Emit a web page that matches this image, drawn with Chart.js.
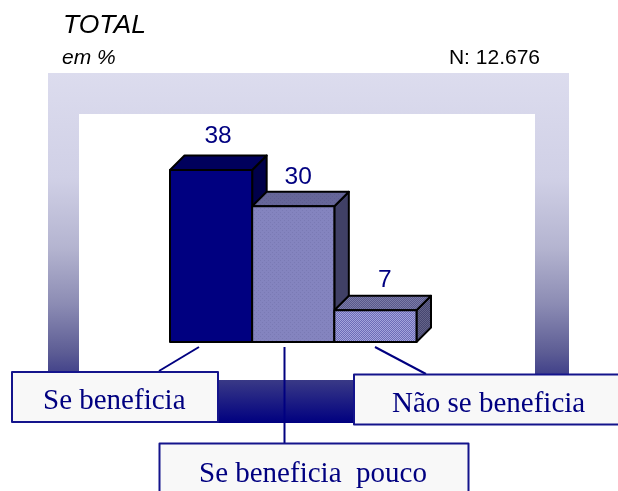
<!DOCTYPE html>
<html><head><meta charset="utf-8">
<style>html,body{margin:0;padding:0;background:#fff;overflow:hidden}#w{width:618px;height:491px;position:relative}</style>
<script src="https://cdn.jsdelivr.net/npm/chart.js@4"></script>
</head><body><div id="w"><canvas id="c" width="618" height="491"></canvas></div>
<script>
const categories = ["Se beneficia", "Se beneficia  pouco", "Não se beneficia"];
const values = [38, 30, 7];
const titleText = "TOTAL";
const unitText = "em %";
const sampleText = "N: 12.676";
const faceColors = ["#000080", "#8484bf", "#8c8cc8"];
const topColors = ["#00005c", "#666699", "#66668f"];
const sideColors = ["#00004a", "#404066", "#50507a"];

const NAVY = "#000080";
const DEPTH = 14.5;
const labelShiftX = [7, 5, 9.5];
const labelShiftY = [-27, -22, -23];
const cv = document.getElementById("c");
const g0 = cv.getContext("2d");

function dither(base, alt, step) {
  const p = document.createElement("canvas");
  p.width = p.height = step * 2;
  const x = p.getContext("2d");
  x.fillStyle = base; x.fillRect(0, 0, step * 2, step * 2);
  x.fillStyle = alt; x.fillRect(0, 0, 1, 1); x.fillRect(step, step, 1, 1);
  return g0.createPattern(p, "repeat");
}
const facePatterns = [faceColors[0], dither(faceColors[1], "#7a7ab4", 2), dither("#6c6cb8", "#a4a4dc", 1)];
const topPatterns = [topColors[0], dither(topColors[1], "#5e5e90", 2), dither("#58588a", "#7c7ca8", 1)];
const sidePatterns = [sideColors[0], sideColors[1], dither("#464670", "#64648a", 1)];

function poly(c, pts, fill) {
  c.beginPath();
  pts.forEach((p, i) => i ? c.lineTo(p[0], p[1]) : c.moveTo(p[0], p[1]));
  c.closePath();
  c.fillStyle = fill; c.fill();
  c.lineWidth = 2; c.strokeStyle = "#000"; c.lineJoin = "round"; c.stroke();
}
function seg(c, a, b, d, e, w) {
  c.beginPath(); c.moveTo(a, b); c.lineTo(d, e);
  c.lineWidth = w; c.strokeStyle = NAVY; c.stroke();
}
function box(c, x, y, w, h, text, tx, ty, openBottom) {
  c.fillStyle = "#f8f8f8"; c.fillRect(x, y, w, h);
  c.strokeStyle = "#14148c"; c.lineWidth = 2;
  c.beginPath();
  if (openBottom) { c.moveTo(x, y + h); c.lineTo(x, y); c.lineTo(x + w, y); c.lineTo(x + w, y + h); }
  else c.rect(x, y, w, h);
  c.stroke();
  c.font = "29px 'Liberation Serif'"; c.fillStyle = NAVY;
  c.textAlign = "left"; c.textBaseline = "alphabetic";
  c.fillText(text, tx, ty);
}

const scene = {
  id: "scene",
  beforeDraw(ch) {
    const c = ch.ctx;
    const g = c.createLinearGradient(0, 73, 0, 423);
    [[0, "#dcdcee"], [.3, "#d0d0e6"], [.5, "#b4b4d0"], [.66, "#8c8cb4"], [.8, "#5c5c94"],
     [.88, "#383886"], [1, NAVY]].forEach(s => g.addColorStop(s[0], s[1]));
    c.save();
    c.fillStyle = "#fff"; c.fillRect(0, 0, 618, 491);
    c.fillStyle = g; c.fillRect(48, 73, 521, 350);
    c.fillStyle = "#fff"; c.fillRect(79, 114, 456, 266);
    c.fillStyle = "#000"; c.textBaseline = "alphabetic"; c.textAlign = "left";
    c.font = "italic 26.5px 'Liberation Sans'"; c.fillText(titleText, 63, 33);
    c.font = "italic 21px 'Liberation Sans'"; c.fillText(unitText, 62, 64);
    c.font = "21px 'Liberation Sans'"; c.textAlign = "right"; c.fillText(sampleText, 540, 64);
    c.restore();
  },
  afterDatasetsDraw(ch) {
    const c = ch.ctx, bars = ch.getDatasetMeta(0).data;
    c.save();
    bars.forEach((b, i) => {
      const l = b.x - b.width / 2, r = b.x + b.width / 2, t = b.y, bt = b.base;
      poly(c, [[r, t], [r + DEPTH, t - DEPTH], [r + DEPTH, bt - DEPTH], [r, bt]], sidePatterns[i]);
      poly(c, [[l, t], [l + DEPTH, t - DEPTH], [r + DEPTH, t - DEPTH], [r, t]], topPatterns[i]);
    });
    bars.forEach((b, i) => {
      const l = b.x - b.width / 2, r = b.x + b.width / 2;
      poly(c, [[l, b.y], [r, b.y], [r, b.base], [l, b.base]], facePatterns[i]);
    });
    c.fillStyle = NAVY; c.font = "24.5px 'Liberation Sans'";
    c.textAlign = "center"; c.textBaseline = "alphabetic";
    bars.forEach((b, i) => c.fillText(String(values[i]), b.x + labelShiftX[i], b.y + labelShiftY[i]));
    seg(c, 199, 347, 159, 371, 2);
    seg(c, 284.5, 347, 284.5, 445, 2);
    seg(c, 375, 347, 426, 374, 2);
    box(c, 12, 372, 206, 50, categories[0], 43, 409);
    box(c, 354, 374.5, 270, 50, categories[2], 392, 412);
    box(c, 159.5, 443.5, 309, 60, categories[1], 199, 482, true);
    c.restore();
  }
};

new Chart(cv, {
  type: "bar",
  data: { labels: categories, datasets: [{ data: values, backgroundColor: faceColors,
    barPercentage: 1, categoryPercentage: 1, borderWidth: 0 }] },
  options: {
    responsive: false, animation: false, devicePixelRatio: 1,
    layout: { padding: { left: 170, right: 201.5, top: 161, bottom: 149 } },
    plugins: { legend: { display: false }, title: { display: false }, tooltip: { enabled: false } },
    scales: { x: { display: false }, y: { display: false, min: 0, max: 40 } }
  },
  plugins: [scene]
});
</script></body></html>
